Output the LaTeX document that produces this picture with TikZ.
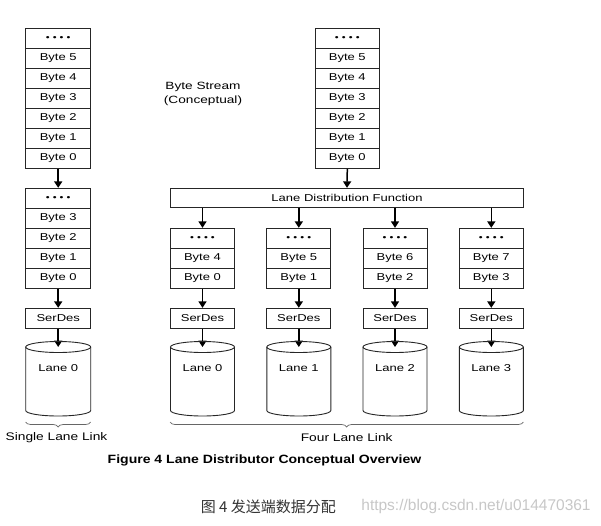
\documentclass[tikz,border=0pt]{standalone}
\usepackage{fontspec}
\setmainfont{Liberation Sans}
\newfontfamily\cjk{Noto Sans CJK SC}
\usepackage{graphicx}
\usetikzlibrary{arrows.meta,decorations.pathreplacing}
\newcommand\hs[1]{\scalebox{1.3}[1]{#1}}
\newcommand\dd{{\fontsize{8.5}{10}\selectfont •\ •\ •\ •}}
\tikzset{
  cell/.style={draw=black!85, line width=0.9pt, minimum width=65pt, minimum height=20pt, inner sep=0pt, font=\fontsize{10}{12}\selectfont},
  arr/.style={line width=1.5pt, -{Triangle[length=6.5pt,width=8pt]}},
  cyl/.style={draw=black!85, line width=0.9pt},
  brc/.style={draw=black!60, line width=0.7pt, decorate, decoration={brace, amplitude=5pt}},
  lbl/.style={font=\fontsize{10}{12}\selectfont, inner sep=0pt},
  big/.style={font=\fontsize{11}{13}\selectfont, inner sep=0pt}
}
\begin{document}
\begin{tikzpicture}[x=1pt,y=1pt]
\useasboundingbox (0,0) rectangle (601,-525);
% ---------- left single lane ----------
\foreach \t [count=\i from 0] in {{\dd},{Byte 5},{Byte 4},{Byte 3},{Byte 2},{Byte 1},{Byte 0}}
  \node[cell] (A\i) at (58.2,{-38.3-20*\i}) {\hs{\t}};
\foreach \t [count=\i from 0] in {{\dd},{Byte 3},{Byte 2},{Byte 1},{Byte 0}}
  \node[cell] (B\i) at (58.2,{-198.3-20*\i}) {\hs{\t}};
\node[cell] (SL) at (58.2,-318.3) {\hs{SerDes}};
\coordinate (KL) at (58.2,-347);
\draw[arr] (A6.south) -- (B0.north);
\draw[arr] (B4.south) -- (SL.north);
\draw[arr] (SL.south) -- (KL);
\draw[cyl] (25.7,-347) -- (25.7,-410.5) arc[start angle=180,end angle=360,x radius=32.5pt,y radius=5.5pt] -- (90.7,-347);
\draw[cyl] (KL) ellipse[x radius=32.5pt,y radius=5.5pt];
\node[lbl] (NL) at (58.2,-368) {\hs{Lane 0}};
\draw[brc] (90.7,-422) -- (25.7,-422);
\node[big] (SLL) at (56.5,-437.5) {\scalebox{1.25}[1]{Single Lane Link}};
% ---------- byte stream ----------
\node[big, align=center, font=\fontsize{10.5}{14.5}\selectfont] (BS) at (203,-94) {\hs{Byte Stream}\\\hs{(Conceptual)}};
\foreach \t [count=\i from 0] in {{\dd},{Byte 5},{Byte 4},{Byte 3},{Byte 2},{Byte 1},{Byte 0}}
  \node[cell, minimum width=64pt] (R\i) at (347.3,{-38.3-20*\i}) {\hs{\t}};
\node[cell, minimum width=352.6pt, minimum height=19pt] (LDF) at (347,-197.8) {\hs{Lane Distribution Function}};
\draw[arr] (R6.south) -- (LDF.north);
% ---------- four lanes ----------
\foreach \x/\a/\b/\n in {202.5/4/0/0, 298.8/5/1/1, 395/6/2/2, 491.3/7/3/3} {
  \node[cell, minimum width=64pt] (C\n0) at (\x,-238.3) {\hs{\dd}};
  \node[cell, minimum width=64pt] (C\n1) at (\x,-258.3) {\hs{Byte \a}};
  \node[cell, minimum width=64pt] (C\n2) at (\x,-278.3) {\hs{Byte \b}};
  \node[cell, minimum width=64pt] (S\n) at (\x,-318.3) {\hs{SerDes}};
  \coordinate (K\n) at (\x,-347);
  \draw[arr] (LDF.south -| C\n0.north) -- (C\n0.north);
  \draw[arr] (C\n2.south) -- (S\n.north);
  \draw[arr] (S\n.south) -- (K\n);
  \draw[cyl] ({\x-32},-347) -- ({\x-32},-410.5) arc[start angle=180,end angle=360,x radius=32pt,y radius=5.5pt] -- ({\x+32},-347);
  \draw[cyl] (K\n) ellipse[x radius=32pt,y radius=5.5pt];
  \node[lbl] (N\n) at (\x,-368) {\hs{Lane \n}};
}
\draw[brc] (523.3,-422) -- (170,-422);
\node[big] (FLL) at (346.7,-437.5) {\scalebox{1.25}[1]{Four Lane Link}};
% ---------- captions ----------
\node[inner sep=0pt, font=\bfseries\fontsize{12}{14}\selectfont] (CAP) at (264.5,-460.7) {\scalebox{1.17}[1]{Figure 4 Lane Distributor Conceptual Overview}};
\node[inner sep=0pt, text=black!80, font=\fontsize{15}{18}\selectfont] (ZH) at (268.3,-506.7) {\cjk 图 4 发送端数据分配};
\node[inner sep=0pt, text=black!22, font=\fontsize{15.5}{18}\selectfont] (WM) at (476,-506.7) {https://blog.csdn.net/u014470361};
\end{tikzpicture}
\end{document}
